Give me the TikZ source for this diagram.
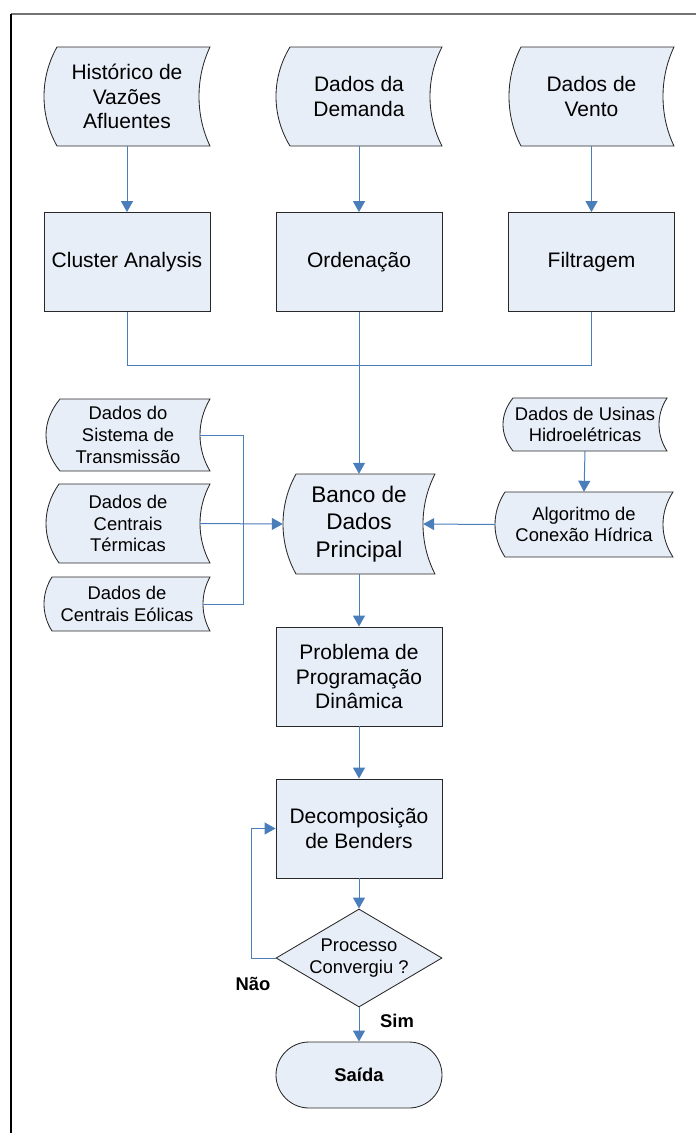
\documentclass[tikz,border=0pt]{standalone}
\usepackage{fontspec}
\setmainfont{Liberation Sans}
\usetikzlibrary{arrows.meta,calc,shapes.geometric,shapes.misc}
\definecolor{boxfill}{RGB}{232,238,247}
\definecolor{boxline}{RGB}{40,40,40}
\definecolor{conn}{RGB}{74,126,187}
\tikzset{
  shapeline/.style={draw=boxline,line width=0.85pt,fill=boxfill},
  bigtxt/.style={font=\fontsize{21}{24.8}\selectfont},
  smalltxt/.style={font=\fontsize{18.4}{21.8}\selectfont},
  bancotxt/.style={font=\fontsize{22.6}{27.7}\selectfont},
  boldtxt/.style={font=\fontsize{18.4}{21.8}\selectfont\bfseries},
  procbox/.style={shapeline,rectangle,minimum width=166pt,minimum height=99pt,inner sep=0pt,align=center},
  conline/.style={draw=conn,line width=1pt},
  conarrow/.style={conline,-{Triangle[length=11pt,width=12pt]}},
}
% \tapeshape{name}{cx}{cy}{w}{h}{dl}{dr}{style}{text}
\newcommand\tapeshape[9]{%
  \pgfmathsetmacro\txl{#2-#4/2}\pgfmathsetmacro\txr{#2+#4/2}%
  \pgfmathsetmacro\tyt{#3-#5/2}\pgfmathsetmacro\tyb{#3+#5/2}%
  \pgfmathsetmacro\tcl{#6*4/3}\pgfmathsetmacro\tcr{#7*4/3}%
  \pgfmathsetmacro\tcy{0.31*#5}%
  \path[shapeline] (\txl+#6,\tyt) -- (\txr,\tyt)
    .. controls (\txr-\tcr,\tyt+\tcy) and (\txr-\tcr,\tyb-\tcy) .. (\txr,\tyb)
    -- (\txl+#6,\tyb)
    .. controls (\txl+#6-\tcl,\tyb-\tcy) and (\txl+#6-\tcl,\tyt+\tcy) .. (\txl+#6,\tyt) -- cycle;
  \node[#8,align=center,inner sep=0pt,minimum width=#4pt,minimum height=#5pt] (#1) at (#2,#3) {#9};%
}
\begin{document}
\begin{tikzpicture}[x=1pt,y=-1pt]
\useasboundingbox (0,0) rectangle (696,1133);
% frame
\draw[draw=gray!90!black,line width=1.6pt] (11,14) -- (696,14);
\draw[draw=black,line width=1.4pt] (11,14) -- (11,1133);

% top data
\tapeshape{hist}{127}{96.5}{166}{99}{13}{11}{bigtxt}{Histórico de\\Vazões\\Afluentes}
\tapeshape{dem}{359}{96.5}{166}{99}{14}{12}{bigtxt}{Dados da\\Demanda}
\tapeshape{vento}{591.5}{96.5}{165}{99}{12}{11}{bigtxt}{Dados de\\Vento}

% processing
\node[procbox,bigtxt] (clus) at (127,262) {Cluster Analysis};
\node[procbox,bigtxt] (ord) at (359,262) {Ordenação};
\node[procbox,bigtxt] (filt) at (591.5,262) {Filtragem};

% left data
\tapeshape{trans}{128}{435}{164}{72}{14}{10}{smalltxt}{Dados do\\Sistema de\\Transmissão}
\tapeshape{term}{128}{523.5}{164}{79}{13}{10}{smalltxt}{Dados de\\Centrais\\Térmicas}
\tapeshape{eol}{127}{604}{166}{54}{8}{7}{smalltxt}{Dados de\\Centrais Eólicas}

% right data
\tapeshape{hidro}{585}{424.5}{164}{53}{10}{8}{smalltxt}{Dados de Usinas\\Hidroelétricas}
\tapeshape{algo}{584}{524.5}{178}{65}{10}{10}{smalltxt}{Algoritmo de\\Conexão Hídrica}

% main database
\tapeshape{banco}{359}{524}{152}{100}{13}{12}{bancotxt}{Banco de\\Dados\\Principal}

\node[procbox,bigtxt] (prob) at (359,676.5) {Problema de\\Programação\\Dinâmica};
\node[procbox,bigtxt] (dec) at (359,828.5) {Decomposição\\de Benders};
\node[diamond,shapeline,smalltxt,minimum width=166pt,minimum height=98pt,inner sep=0pt,align=center,aspect=1.69] (conv) at (359,958) {Processo\\Convergiu ?};
\node[rounded rectangle,shapeline,boldtxt,minimum width=166pt,minimum height=66pt,inner sep=0pt] (said) at (359,1075) {Saída};

% connectors
\draw[conarrow] (hist.south) -- (clus.north);
\draw[conarrow] (dem.south) -- (ord.north);
\draw[conarrow] (vento.south) -- (filt.north);
\coordinate (j) at (359,365);
\draw[conline] (clus.south) |- (j);
\draw[conline] (filt.south) |- (j);
\draw[conarrow] (ord.south) -- (banco.north);

\coordinate (lj) at (243,524);
\draw[conline] ([xshift=-10pt]trans.east) -| (lj);
\draw[conline] ([xshift=-7pt]eol.east) -| (lj);
\draw[conarrow] ([xshift=-10pt]term.east) -- (banco.west);

\draw[conarrow] (hidro.south) -- (algo.north);
\draw[conarrow] (algo.west) -- ([xshift=-12pt]banco.east);

\draw[conarrow] (banco.south) -- (prob.north);
\draw[conarrow] (prob.south) -- (dec.north);
\draw[conarrow] (dec.south) -- (conv.north);
\draw[conarrow] (conv.south) -- (said.north);
\draw[conarrow] (conv.west) -- ++(-24,0) |- (dec.west);

\node[boldtxt] (nao) at (253,984) {Não};
\node[boldtxt] (sim) at (397,1021) {Sim};
\end{tikzpicture}
\end{document}
